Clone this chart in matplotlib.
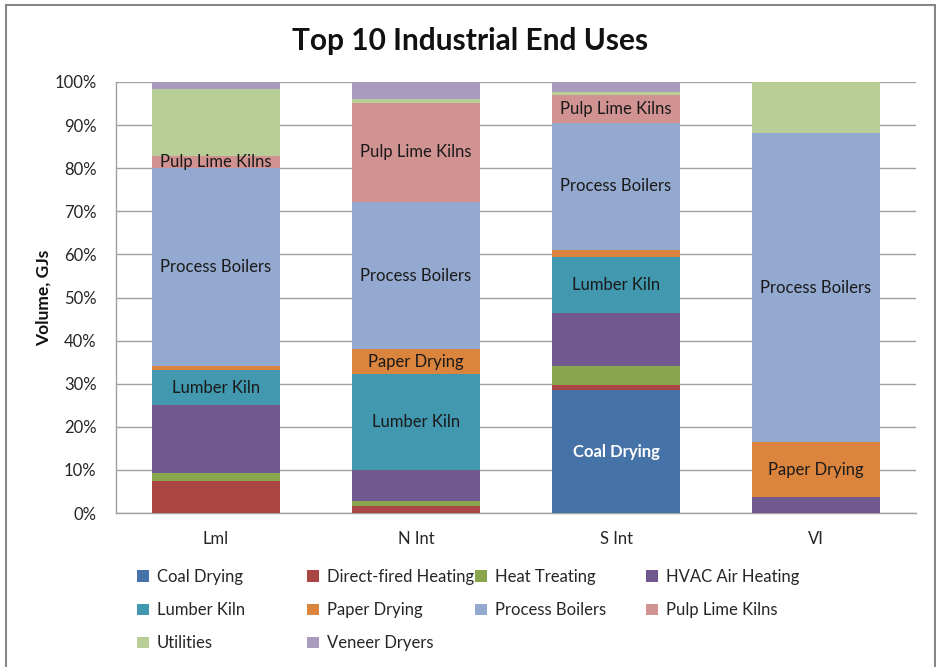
import matplotlib
matplotlib.use("Agg")
import matplotlib.pyplot as plt
from matplotlib.patches import Rectangle, Patch
from matplotlib.ticker import FuncFormatter
import numpy as np

plt.rcParams['font.family'] = ['Lato', 'DejaVu Sans']

categories = ["Lml", "N Int", "S Int", "VI"]
series_names = ["Coal Drying", "Direct-fired Heating", "Heat Treating", "HVAC Air Heating",
                "Lumber Kiln", "Paper Drying", "Process Boilers", "Pulp Lime Kilns",
                "Utilities", "Veneer Dryers"]
coal_drying = [0, 0, 28.5, 0]
direct_fired = [7.5, 1.6, 1.2, 0]
heat_treating = [1.85, 1.25, 4.5, 0]
hvac = [15.7, 7.15, 12.1, 3.6]
lumber_kiln = [8.1, 22.2, 13.0, 0]
paper_drying = [1.0, 5.8, 1.7, 12.8]
process_boilers = [45.8, 34.2, 29.6, 71.8]
pulp_lime_kilns = [2.8, 23.0, 6.4, 0]
utilities = [15.6, 0.8, 0.6, 11.8]
veneer_dryers = [1.6, 4.0, 2.4, 0]
values = [coal_drying, direct_fired, heat_treating, hvac, lumber_kiln, paper_drying,
          process_boilers, pulp_lime_kilns, utilities, veneer_dryers]
colors = ["#4572A7", "#AA4643", "#89A54E", "#71588F", "#4198AF", "#DB843D",
          "#93A9CF", "#D19392", "#B9CD96", "#A99BBD"]
labeled_series = ["Coal Drying", "Lumber Kiln", "Paper Drying", "Process Boilers", "Pulp Lime Kilns"]
label_min = 2.5
yticks = [0, 10, 20, 30, 40, 50, 60, 70, 80, 90, 100]

TXT = '#262626'
fig = plt.figure(figsize=(9.36, 6.67), dpi=100)
ax = fig.add_axes([116/936, 1-513/667, 800/936, 431/667])

data = np.array(values, dtype=float)
data = data / data.sum(axis=0) * 100
x = np.arange(len(categories))
bottom = np.zeros(len(categories))
handles = []
for name, vals, col in zip(series_names, data, colors):
    ax.bar(x, vals, 0.64, bottom=bottom, color=col, linewidth=0, zorder=3)
    handles.append(Patch(facecolor=col, edgecolor='none'))
    if name in labeled_series:
        for xi, v, b in zip(x, vals, bottom):
            if v >= label_min:
                white = name == "Coal Drying"
                ax.text(xi, b + v/2, name, ha='center', va='center', fontsize=12,
                        color='white' if white else '#1a1a1a',
                        fontweight='bold' if white else 'normal', zorder=4)
    bottom += vals

ax.set_xlim(-0.5, len(categories) - 0.5)
ax.set_ylim(0, 100)
ax.set_yticks(yticks)
ax.yaxis.set_major_formatter(FuncFormatter(lambda v, p: f"{int(v)}%"))
ax.set_xticks(x)
ax.set_xticklabels(categories)
ax.tick_params(axis='both', length=0, labelsize=12, colors=TXT)
ax.tick_params(axis='x', pad=13)
ax.tick_params(axis='y', pad=14)
ax.grid(axis='y', color='#A0A0A0', linewidth=1, zorder=0)
for s in ['top', 'right']:
    ax.spines[s].set_visible(False)
for s in ['left', 'bottom']:
    ax.spines[s].set_color('#A0A0A0')
    ax.spines[s].set_linewidth(1)
ax.set_ylabel("Volume, GJs", fontsize=12.5, fontweight='bold', labelpad=2, color='#111111')

fig.text(0.502, 1-41/667, "Top 10 Industrial End Uses", ha='center', va='center',
         fontsize=21.5, fontweight='bold', color='#111111')

# legend: rows of 4 with fixed column positions
col_x = [137, 307, 475, 646]
row_y = [577, 609, 642]
for c in range(4):
    idx = [r*4 + c for r in range(3) if r*4 + c < len(series_names)]
    leg = fig.legend([handles[i] for i in idx], [series_names[i] for i in idx],
                     loc='upper left', bbox_to_anchor=(col_x[c]/936, 1-(row_y[0]-8)/667),
                     frameon=False, fontsize=12, handlelength=0.7, handleheight=0.7,
                     handletextpad=0.5, labelspacing=1.03, borderpad=0, borderaxespad=0)
    for t in leg.get_texts():
        t.set_color(TXT)

fig.patches.append(Rectangle((6/936, -0.05), (935-6)/936, 1.05 - 5/667,
                             transform=fig.transFigure, fill=False,
                             edgecolor='#868686', linewidth=1.5))

fig.savefig("out.png", dpi=100)
